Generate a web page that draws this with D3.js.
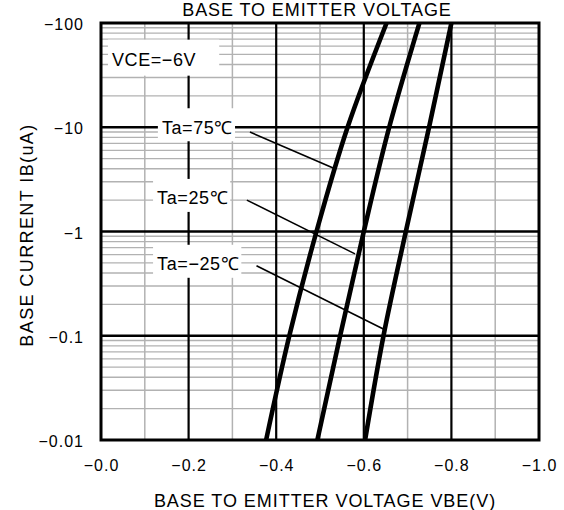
<!DOCTYPE html>
<html>
<head>
<meta charset="utf-8">
<script src="https://cdn.jsdelivr.net/npm/d3@7"></script>
<style>
  body { margin: 0; background: #fff; }
  text { font-family: Arial, "Liberation Sans", sans-serif; fill: #000; }
</style>
</head>
<body>
<div id="chart"></div>
<script>
/* DATA */
// base current, uA (plotted as negative values on the labels)
const currents = [0.01, 0.1, 1, 10, 100];
// base-emitter voltage, V (magnitude) at each current
const vbe75 = [0.377, 0.430, 0.492, 0.563, 0.652];
const vbe25 = [0.494, 0.546, 0.600, 0.658, 0.727];
const vbeM25 = [0.603, 0.645, 0.696, 0.749, 0.800];
const seriesNames = ["Ta=75℃", "Ta=25℃", "Ta=−25℃"];

const xTicks = [0, 0.2, 0.4, 0.6, 0.8, 1.0];
const xTickLabels = ["−0.0", "−0.2", "−0.4", "−0.6", "−0.8", "−1.0"];
const yTicks = [0.01, 0.1, 1, 10, 100];
const yTickLabels = ["−0.01", "−0.1", "−1", "−10", "−100"];

// label text anchor (V, I) and leader line (from V, I -> to V, I)
const labelPos = [[0.139, 10], [0.128, 2.1], [0.128, 0.49]];
const leaderFrom = [[0.340, 9.0], [0.333, 2.0], [0.355, 0.47]];
const leaderTo = [[0.534, 4.0], [0.580, 0.61], [0.648, 0.114]];

/* CONSTANTS */
const width = 564,
  height = 510,
  margin = { top: 23, right: 25, bottom: 70, left: 101 };

const svg = d3
  .select("#chart")
  .append("svg")
  .attr("width", width)
  .attr("height", height);

const xScale = d3
  .scaleLinear()
  .domain([0, 1])
  .range([margin.left, width - margin.right]);

const yScale = d3
  .scaleLog()
  .domain([0.01, 100])
  .range([height - margin.bottom, margin.top]);

const x0 = margin.left, x1 = width - margin.right;
const y0 = height - margin.bottom, y1 = margin.top;

// + GRID: minor lines first, then major
const minorX = d3.range(0.1, 1, 0.2);
const majorX = [0.2, 0.4, 0.6, 0.8];
const minorY = [];
[0.01, 0.1, 1, 10].forEach(d => {
  for (let k = 2; k <= 9; k++) minorY.push(d * k);
});
const majorY = [0.1, 1, 10];

const grid = svg.append("g").attr("class", "grid");
grid.selectAll(".minor-y")
  .data(minorY)
  .join("line")
  .attr("x1", x0).attr("x2", x1)
  .attr("y1", d => yScale(d)).attr("y2", d => yScale(d))
  .attr("stroke", "#b2b2b2")
  .attr("stroke-width", 1.3);
grid.selectAll(".minor-x")
  .data(minorX)
  .join("line")
  .attr("y1", y0).attr("y2", y1)
  .attr("x1", d => xScale(d)).attr("x2", d => xScale(d))
  .attr("stroke", "#b2b2b2")
  .attr("stroke-width", 1.5);

const major = svg.append("g");
major.selectAll("line.mx")
  .data(majorX)
  .join("line")
  .attr("class", "mx")
  .attr("y1", y0).attr("y2", y1)
  .attr("x1", d => xScale(d)).attr("x2", d => xScale(d))
  .attr("stroke", "#000")
  .attr("stroke-width", 2.2);
major.selectAll("line.my")
  .data(majorY)
  .join("line")
  .attr("class", "my")
  .attr("x1", x0).attr("x2", x1)
  .attr("y1", d => yScale(d)).attr("y2", d => yScale(d))
  .attr("stroke", "#000")
  .attr("stroke-width", 2.6);

// + LABEL BOXES (white, cover the grid)
const boxes = svg.append("g");
const labels = svg.append("g");

function boxedText(txt, x, y, padL, padR, boxH, shift) {
  const t = labels.append("text")
    .attr("x", x)
    .attr("y", y)
    .attr("dy", "0.36em")
    .attr("font-size", 18)
    .style("letter-spacing", "0.6px")
    .text(txt);
  const bb = t.node().getBBox();
  boxes.append("rect")
    .attr("x", bb.x - padL)
    .attr("y", y - boxH / 2 - shift)
    .attr("width", bb.width + padL + padR)
    .attr("height", boxH)
    .attr("fill", "#fff");
}

boxedText("VCE=−6V", xScale(0.025), yScale(45), 4, 23, 36, 1.5);
seriesNames.forEach((name, i) => {
  boxedText(name, xScale(labelPos[i][0]), yScale(labelPos[i][1]), 4, 2, 33, 2.5);
});

// + CURVES
const line = d3.line()
  .x(d => xScale(d[0]))
  .y(d => yScale(d[1]))
  .curve(d3.curveMonotoneY);

[vbe75, vbe25, vbeM25].forEach(vals => {
  svg.append("path")
    .datum(vals.map((v, i) => [v, currents[i]]))
    .attr("d", line)
    .attr("fill", "none")
    .attr("stroke", "#000")
    .attr("stroke-width", 4.6);
});

// + LEADER LINES
svg.append("g")
  .selectAll("line")
  .data(d3.range(3))
  .join("line")
  .attr("x1", i => xScale(leaderFrom[i][0]))
  .attr("y1", i => yScale(leaderFrom[i][1]))
  .attr("x2", i => xScale(leaderTo[i][0]))
  .attr("y2", i => yScale(leaderTo[i][1]))
  .attr("stroke", "#000")
  .attr("stroke-width", 1.6);

// + FRAME
svg.append("rect")
  .attr("x", x0)
  .attr("y", y1)
  .attr("width", x1 - x0)
  .attr("height", y0 - y1)
  .attr("fill", "none")
  .attr("stroke", "#000")
  .attr("stroke-width", 3);

// + AXES (labels only)
const xAxis = d3.axisBottom(xScale)
  .tickValues(xTicks)
  .tickFormat((d, i) => xTickLabels[i])
  .tickSize(0)
  .tickPadding(20);
const yAxis = d3.axisLeft(yScale)
  .tickValues(yTicks)
  .tickFormat((d, i) => yTickLabels[i])
  .tickSize(0)
  .tickPadding(17);

svg.append("g")
  .attr("class", "axis x-axis")
  .attr("transform", `translate(0,${y0})`)
  .call(xAxis)
  .call(g => g.select(".domain").remove())
  .selectAll("text")
  .attr("font-size", 16)
  .attr("font-family", "Arial, 'Liberation Sans', sans-serif")
  .style("letter-spacing", "1px");

svg.append("g")
  .attr("class", "axis y-axis")
  .attr("transform", `translate(${x0},0)`)
  .call(yAxis)
  .call(g => g.select(".domain").remove())
  .selectAll("text")
  .attr("font-size", 16)
  .attr("font-family", "Arial, 'Liberation Sans', sans-serif")
  .attr("dy", "0.42em")
  .style("letter-spacing", "1px");

// + TITLES
svg.append("text")
  .attr("x", 317)
  .attr("y", 16)
  .attr("text-anchor", "middle")
  .attr("font-size", 18)
  .style("letter-spacing", "0.9px")
  .text("BASE TO EMITTER VOLTAGE");

svg.append("text")
  .attr("x", 325)
  .attr("y", 507)
  .attr("text-anchor", "middle")
  .attr("font-size", 18)
  .style("letter-spacing", "0.95px")
  .text("BASE TO EMITTER VOLTAGE VBE(V)");

svg.append("text")
  .attr("transform", "translate(33,235) rotate(-90)")
  .attr("text-anchor", "middle")
  .attr("font-size", 18)
  .style("letter-spacing", "1.4px")
  .text("BASE CURRENT IB(uA)");
</script>
</body>
</html>
